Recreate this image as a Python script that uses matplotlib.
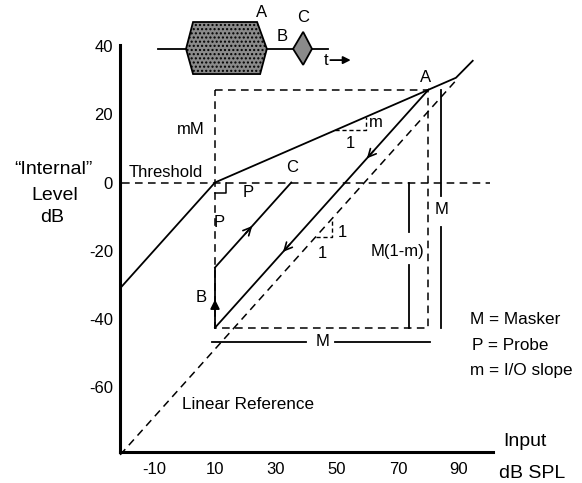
import matplotlib
matplotlib.use("Agg")
import matplotlib.pyplot as plt
from matplotlib.patches import Polygon

plt.rcParams['font.family'] = ['Liberation Sans', 'DejaVu Sans']
plt.rcParams['axes.unicode_minus'] = False

# ---- data ----
x_ticks = [-10, 10, 30, 50, 70, 90]
y_ticks = [-60, -40, -20, 0, 20, 40]
thr_in = 10          # threshold input (dB SPL)
thr_lvl = 0          # threshold internal level (dB)
masker = 70          # M
io_slope = 0.39      # m
probe = 25           # P
lin_offset = -59     # linear reference: level = input + offset
io_input = [-20.5, 10, 89, 94.5]
io_level = [-30.5, 0, 30.8, 35.8]
lin_input = [-21.1, 89.5]

# icon geometry (time schematic), in data units
hex_x = [0.5, 2.8, 23.8, 27.0, 24.8, 2.8]
hex_y = [39.3, 47.2, 47.2, 39.3, 31.9, 31.9]
dia_x = [35.6, 38.9, 41.8, 38.9]
dia_y = [39.3, 44.3, 39.3, 34.6]

W, H = 582, 483
fig = plt.figure(figsize=(W / 100, H / 100), dpi=100)
ax = fig.add_axes([120 / W, (H - 452) / H, (493 - 120) / W, (452 - 45) / H])
ax.set_xlim(-21.15, 101.15)
ax.set_ylim(-79.26, 40.44)
for s in ['top', 'right']:
    ax.spines[s].set_visible(False)
for s in ['left', 'bottom']:
    ax.spines[s].set_linewidth(2.2)
ax.set_xticks(x_ticks)
ax.set_yticks(y_ticks)
ax.tick_params(axis='both', length=0, labelsize=12)
ax.tick_params(axis='x', pad=7)
ax.tick_params(axis='y', pad=5)

lw = 1.3
dash = dict(color='black', lw=1.1, linestyle=(0, (5, 3.5)), clip_on=False)
solid = dict(color='black', lw=lw, clip_on=False)

M, m, P = masker, io_slope, probe
A = (thr_in + M, thr_lvl + m * M)
box_bot = thr_lvl - M * (1 - m)

# I/O function
ax.plot(io_input, io_level, **solid)
# linear reference
ax.plot(lin_input, [x + lin_offset for x in lin_input], **dash)
# threshold dashed line
ax.plot([-20.5, 100.2], [thr_lvl, thr_lvl], **dash)
# box (dashed)
ax.plot([thr_in, A[0], A[0], thr_in, thr_in], [A[1], A[1], box_bot, box_bot, A[1]], **dash)
# line from A down with slope 1
ax.plot([A[0], thr_in], [A[1], box_bot], **solid)
# probe path: B step then slope-1 to C
ax.plot([thr_in, thr_in], [box_bot, thr_lvl - P], **solid)
ax.plot([thr_in, thr_in + P], [thr_lvl - P, thr_lvl], **solid)

# right-angle marker at threshold
ax.plot([thr_in + 3.5, thr_in + 3.5, thr_in], [thr_lvl, thr_lvl - 3.2, thr_lvl - 3.2], color='black', lw=1.1)

# slope triangles
x0 = 49.5
ax.plot([x0, x0 + 10, x0 + 10], [m * (x0 - thr_in), m * (x0 - thr_in), m * (x0 + 10 - thr_in)],
        color='black', lw=1.0, linestyle=(0, (3, 2)))
x1 = 43.0
ax.plot([x1, x1 + 5.5, x1 + 5.5], [x1 + lin_offset, x1 + lin_offset, x1 + 5.5 + lin_offset],
        color='black', lw=1.0, linestyle=(0, (3, 2)))

# vertical M(1-m) line
ax.plot([73.6, 73.6], [thr_lvl, -14.6], **solid)
ax.plot([73.6, 73.6], [-24.3, box_bot], **solid)
ax.text(69.7, -20.4, 'M(1-m)', fontsize=12, ha='center', va='center')
# vertical M line
ax.plot([84.2, 84.2], [A[1], -4.0], **solid)
ax.plot([84.2, 84.2], [-13.0, box_bot], **solid)
ax.text(84.4, -7.9, 'M', fontsize=12, ha='center', va='center')
# horizontal M line
ax.plot([8.9, 39.8], [-46.9, -46.9], **solid)
ax.plot([49.3, 80.5], [-46.9, -46.9], **solid)
ax.text(45.2, -46.9, 'M', fontsize=12, ha='center', va='center')

# arrows along lines
def chevron(x, y, dx, dy, style='->'):
    ax.annotate('', xy=(x + dx, y + dy), xytext=(x, y),
                arrowprops=dict(arrowstyle=style, lw=1.2, color='black',
                                mutation_scale=14, shrinkA=0, shrinkB=0))

off2 = A[1] - A[0]
chevron(62.0, 62.0 + off2, -2.2, -2.2)
chevron(34.5, 34.5 + off2, -2.2, -2.2)
chevron(20.0, 20.0 - thr_in - P, 2.2, 2.2)
chevron(thr_in, -37.0, 0, 2.6, '-|>')

# labels
fs = 12
ax.text(6.0, 2.8, 'Threshold', fontsize=fs, ha='right', va='center')
ax.text(6.7, 15.7, 'mM', fontsize=fs, ha='right', va='center')
ax.text(78.9, 30.9, 'A', fontsize=fs, ha='center', va='center')
ax.text(35.2, 4.4, 'C', fontsize=fs, ha='center', va='center')
ax.text(20.8, -2.8, 'P', fontsize=fs, ha='center', va='center')
ax.text(11.4, -11.9, 'P', fontsize=fs, ha='center', va='center')
ax.text(5.4, -33.7, 'B', fontsize=fs, ha='center', va='center')
ax.text(62.8, 17.6, 'm', fontsize=fs, ha='center', va='center')
ax.text(54.3, 11.5, '1', fontsize=fs, ha='center', va='center')
ax.text(51.6, -14.6, '1', fontsize=fs, ha='center', va='center')
ax.text(45.1, -20.8, '1', fontsize=fs, ha='center', va='center')
ax.text(-0.8, -65.4, 'Linear Reference', fontsize=12.3, ha='left', va='center')

# time-course icon
ax.plot([-8.7, 47.0], [39.3, 39.3], color='black', lw=1.3, clip_on=False, zorder=1)
ax.add_patch(Polygon(list(zip(hex_x, hex_y)), closed=True, facecolor='#8a8a8a',
                     edgecolor='black', lw=1.3, hatch='....', clip_on=False, zorder=2))
ax.add_patch(Polygon(list(zip(dia_x, dia_y)), closed=True, facecolor='#8a8a8a',
                     edgecolor='black', lw=1.3, clip_on=False, zorder=2))
ax.text(25.4, 50.0, 'A', fontsize=fs, ha='center', va='center')
ax.text(32.0, 42.8, 'B', fontsize=fs, ha='center', va='center')
ax.text(38.9, 48.4, 'C', fontsize=fs, ha='center', va='center')
ax.text(46.4, 36.0, 't', fontsize=fs, ha='center', va='center')
ax.annotate('', xy=(54.5, 36.0), xytext=(47.8, 36.0),
            arrowprops=dict(arrowstyle='-|>', lw=1.3, color='black',
                            mutation_scale=11, shrinkA=0, shrinkB=0))

# figure-level labels
def ftext(px, py, s, **kw):
    fig.text(px / W, 1 - py / H, s, **kw)

ftext(53, 169, '\u201cInternal\u201d', fontsize=14, ha='center', va='center')
ftext(55, 195, 'Level', fontsize=14, ha='center', va='center')
ftext(52, 218, 'dB', fontsize=14, ha='center', va='center')
ftext(503, 442, 'Input', fontsize=14, ha='left', va='center')
ftext(499, 473, 'dB SPL', fontsize=14, ha='left', va='center')
ftext(470, 319, 'M = Masker', fontsize=12.3, ha='left', va='center')
ftext(472, 346, 'P = Probe', fontsize=12.3, ha='left', va='center')
ftext(470, 371, 'm = I/O slope', fontsize=12.3, ha='left', va='center')

fig.savefig('out.png', dpi=100)
